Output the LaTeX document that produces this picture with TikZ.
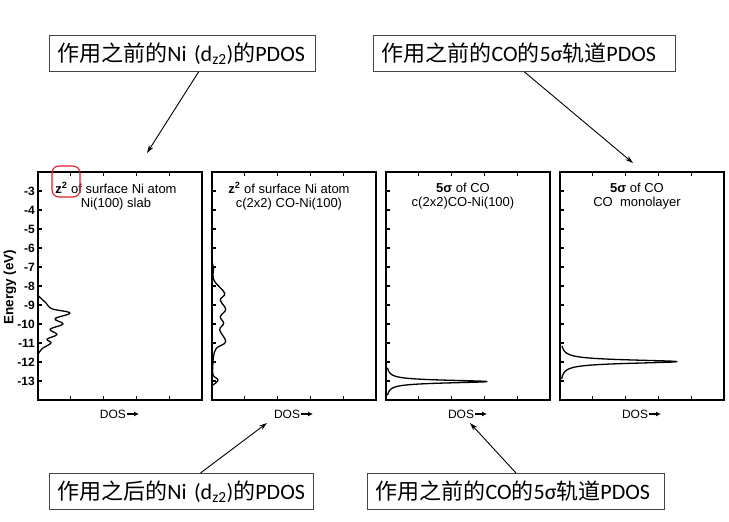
\documentclass[tikz,border=0pt]{standalone}
\usepackage{fontspec}
\setmainfont{Carlito}
\newfontfamily\cjk{Noto Sans CJK SC}
\newfontfamily\plotfont{Liberation Sans}
\usetikzlibrary{arrows.meta}
\definecolor{boxgray}{RGB}{70,70,70}
\definecolor{markred}{RGB}{225,30,40}

\tikzset{
	notebox/.style={draw=boxgray, line width=1pt, fill=white, anchor=north west, inner xsep=8pt, inner ysep=0pt, minimum height=36pt, align=left, font=\fontsize{22}{24}\selectfont},
	pointer/.style={-{Stealth[length=8pt,width=5pt]}, line width=0.9pt},
	frame/.style={line width=1.2pt},
	dosline/.style={line width=1.3pt, line join=round},
	paneltext/.style={font=\plotfont\fontsize{13}{14}\selectfont, align=center},
	dostext/.style={font=\plotfont\fontsize{12}{12}\selectfont, inner sep=0pt},
	ticktext/.style={font=\plotfont\bfseries\fontsize{12}{12}\selectfont, anchor=east, inner sep=1pt}
}

\begin{document}
\begin{tikzpicture}[x=1pt,y=-1pt]
					\useasboundingbox (0,0) rectangle (729,522);
					
					% four PDOS panels, energy axis -2 ... -14 eV
					\foreach \xl/\n in {38/1,212/2,386/3,560/4}{
						\draw[frame] (\xl,172) rectangle ++(164,228);
						\foreach \k in {1,...,4}{
							\draw[frame] (\xl+\k*32.8,172) -- ++(0,4);
							\draw[frame] (\xl+\k*32.8,400) -- ++(0,-4);
						}
						\foreach \e in {3,...,13}
							\draw[frame] (\xl,134+19*\e) -- ++(4,0);
						\node[dostext] (dos\n) at (\xl+75,414) {DOS};
						\coordinate (dosend\n) at (\xl+101,414);
						\draw[-{Latex[length=5pt,width=5pt]}, line width=1.4pt] ([xshift=1pt]dos\n.east) -- (dosend\n);
					}
					
					% energy labels
					\foreach \e in {3,...,13}
						\node[ticktext] (lab\e) at (36,134+19*\e) {-\e};
					\node[font=\plotfont\bfseries\fontsize{13.5}{14}\selectfont, rotate=90] (elabel) at (10,287) {Energy (eV)};
					
					% curves
					\draw[dosline] plot[smooth, tension=0.6] coordinates {(38,295.5) (46,303) (52,308.8) (70,313) (55,318.7) (63,324) (50,329.3) (57,334.5) (47,339.2) (51,343) (42,348.7) (38,354.4)};
					\draw[dosline] plot[smooth, tension=0.6] coordinates {(212,262) (213.5,268) (213,275) (215,282) (224.7,293.3) (220.3,300) (225.7,309.3) (220.3,316.7) (223.7,323.3) (219.7,330) (225.7,341.7) (216.3,348.3) (213.5,356.7) (212.8,366) (213,375) (218,380) (213,385)};
					\draw[dosline] plot[domain=-12.3:-13.75, samples=150, smooth] ({386+101/(1+((\x+13.03)/0.09)^2)},{134-19*\x});
					\draw[dosline] plot[domain=-11.15:-12.9, samples=150, smooth] ({560+117/(1+((\x+11.98)/0.11)^2)},{134-19*\x});
					
					% panel titles
					\node[paneltext] (t1) at (116,196) {\textbf{z\textsuperscript{2}} of surface Ni atom\\Ni(100) slab};
					\node[paneltext] (t2) at (289,196) {\textbf{z\textsuperscript{2}} of surface Ni atom\\c(2x2) CO-Ni(100)};
					\node[paneltext] (t3) at (463,196) {\textbf{5σ} of CO\\c(2x2)CO-Ni(100)};
					\node[paneltext] (t4) at (637,196) {\textbf{5σ} of CO\\CO\ \ monolayer};
					\draw[markred, line width=1.1pt, rounded corners=7pt] (52,166) rectangle (80,197);
					
					% notes
					\node[notebox, text width=250pt] (box1) at (49,35) {{\cjk 作用之前的}Ni (d\textsubscript{z2}){\cjk 的}PDOS};
					\node[notebox, text width=286pt] (box2) at (373,35) {{\cjk 作用之前的}CO{\cjk 的}5σ{\cjk 轨道}PDOS};
					\node[notebox, text width=248pt] (box3) at (49,473) {{\cjk 作用之后的}Ni (d\textsubscript{z2}){\cjk 的}PDOS};
					\node[notebox, text width=281pt] (box4) at (367,473) {{\cjk 作用之前的}CO{\cjk 的}5σ{\cjk 轨道}PDOS};
					
					\coordinate (tip1) at (147,153);
					\coordinate (tip2) at (633,163);
					\coordinate (tip3) at (267,423);
					\coordinate (tip4) at (470,423);
					\draw[pointer] ([xshift=16pt]box1.south) -- (tip1);
					\draw[pointer] (box2.south) -- (tip2);
					\draw[pointer] ([xshift=19pt]box3.north) -- (tip3);
					\draw[pointer] (box4.north) -- (tip4);
				\end{tikzpicture}
\end{document}
